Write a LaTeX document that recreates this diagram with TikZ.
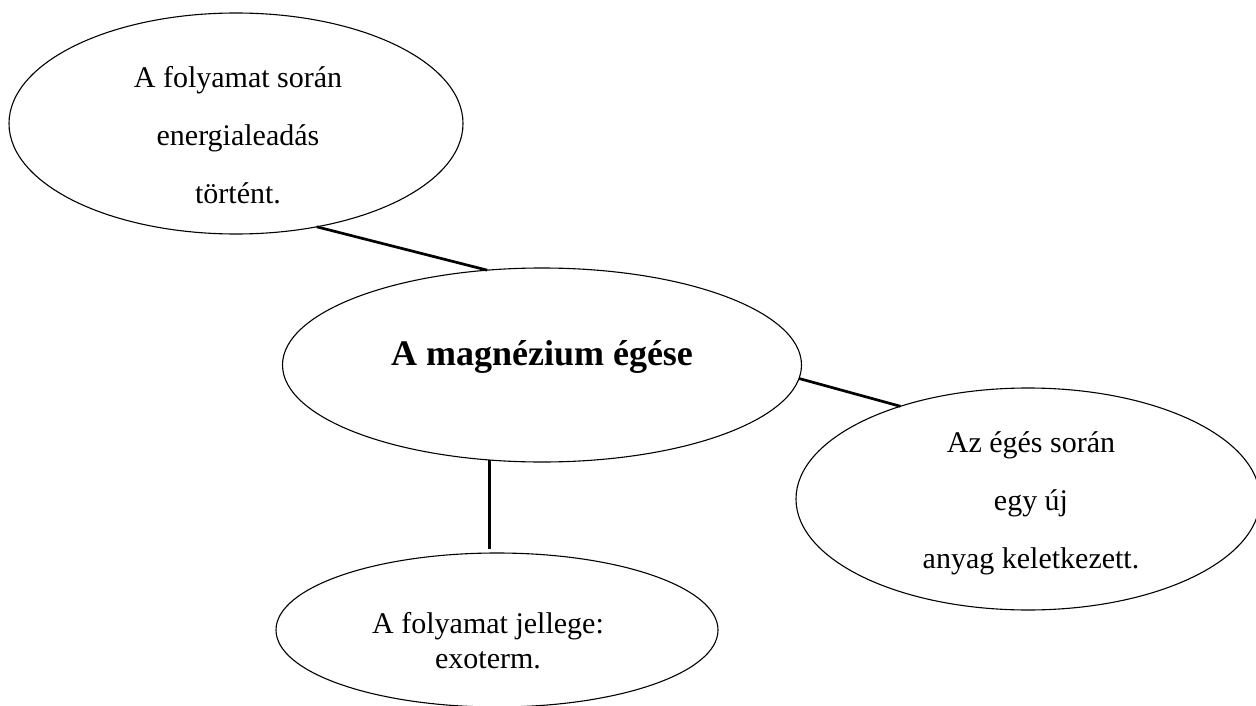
\documentclass[tikz,border=0pt]{standalone}
\usepackage{fontspec}
\setmainfont{Liberation Serif}
\usetikzlibrary{shapes.geometric}
\begin{document}
\begin{tikzpicture}[x=1pt,y=-1pt,
  bubble/.style={draw, ellipse, line width=1.1pt, inner sep=0pt, outer sep=0pt},
  conn/.style={line width=2.7pt},
  txt/.style={font=\fontsize{30}{58}\selectfont, align=center, inner sep=0pt},
  txtb/.style={font=\fontsize{30}{35}\selectfont, align=center, inner sep=0pt},
  ttl/.style={font=\bfseries\fontsize{36}{40}\selectfont, inner sep=0pt}]
\useasboundingbox (0,0) rectangle (1256,706);
% ellipses
\node[bubble, minimum width=454pt, minimum height=221pt] (tl) at (236,123.5) {};
\node[bubble, minimum width=519pt, minimum height=194pt] (c) at (542,365) {};
\node[bubble, minimum width=464pt, minimum height=222pt] (r) at (1028,499) {};
\node[bubble, minimum width=442pt, minimum height=154pt] (b) at (497,630) {};
% texts
\node[txt] (tlt) at (238,135) {A folyamat során\\energialeadás\\történt.};
\node[ttl] (ct) at (542,357) {A magnézium égése};
\node[txt] (rt) at (1031,503) {Az égés során\\egy új\\anyag keletkezett.};
\node[txtb] (bt) at (488,641) {A folyamat jellege:\\exoterm.};
% connectors
\draw[conn] (tl.-52) -- (c.120.7);
\draw[conn] (c.-3) -- (r.144);
\draw[conn] (c.-119) -- ([yshift=4pt]c.-119 |- b.north);
\end{tikzpicture}
\end{document}
